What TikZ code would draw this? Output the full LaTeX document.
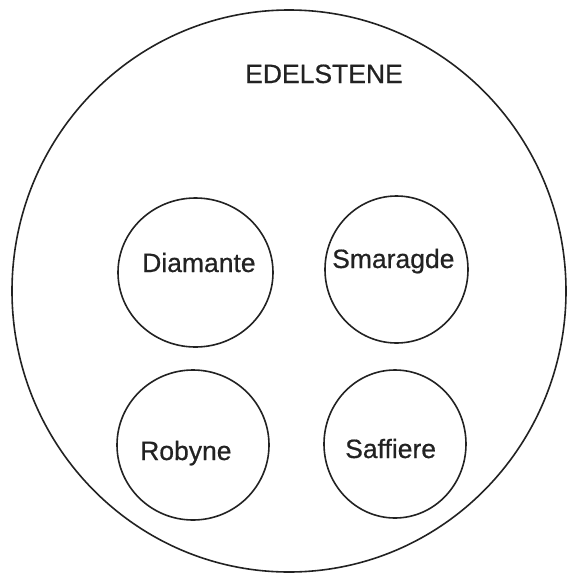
\documentclass[tikz,border=0pt]{standalone}
\usepackage{fontspec}
\setmainfont{Liberation Sans}
\newfontfamily\gemfont{Liberation Sans}[FakeBold=0.6]
\usetikzlibrary{shapes.geometric}
\begin{document}
\begin{tikzpicture}[x=1pt,y=-1pt,
  ring/.style={draw=ink, line width=1.6pt, ellipse, inner sep=0pt},
  lbl/.style={anchor=base west, inner sep=0pt, text=ink, font=\gemfont\fontsize{26.5}{30}\selectfont}]
\definecolor{ink}{HTML}{222222}
\useasboundingbox (0,0) rectangle (567,574);
\node[ring, minimum width=554pt, minimum height=562pt] (all) at (289,291) {};
\node[ring, minimum width=155pt, minimum height=149pt] (dia) at (195.5,272.5) {};
\node[ring, minimum width=143pt, minimum height=147pt] (sma) at (396.5,269.5) {};
\node[ring, minimum width=152pt, minimum height=150pt] (rob) at (193,445) {};
\node[ring, minimum width=142pt, minimum height=148pt] (saf) at (395,444) {};
\node[lbl] (tall) at (245,83) {EDELSTENE};
\node[lbl] (tdia) at (142,272) {Diamante};
\node[lbl] (tsma) at (332,268) {Smaragde};
\node[lbl] (trob) at (140,460) {Robyne};
\node[lbl] (tsaf) at (345,458) {Saffiere};
\end{tikzpicture}
\end{document}
